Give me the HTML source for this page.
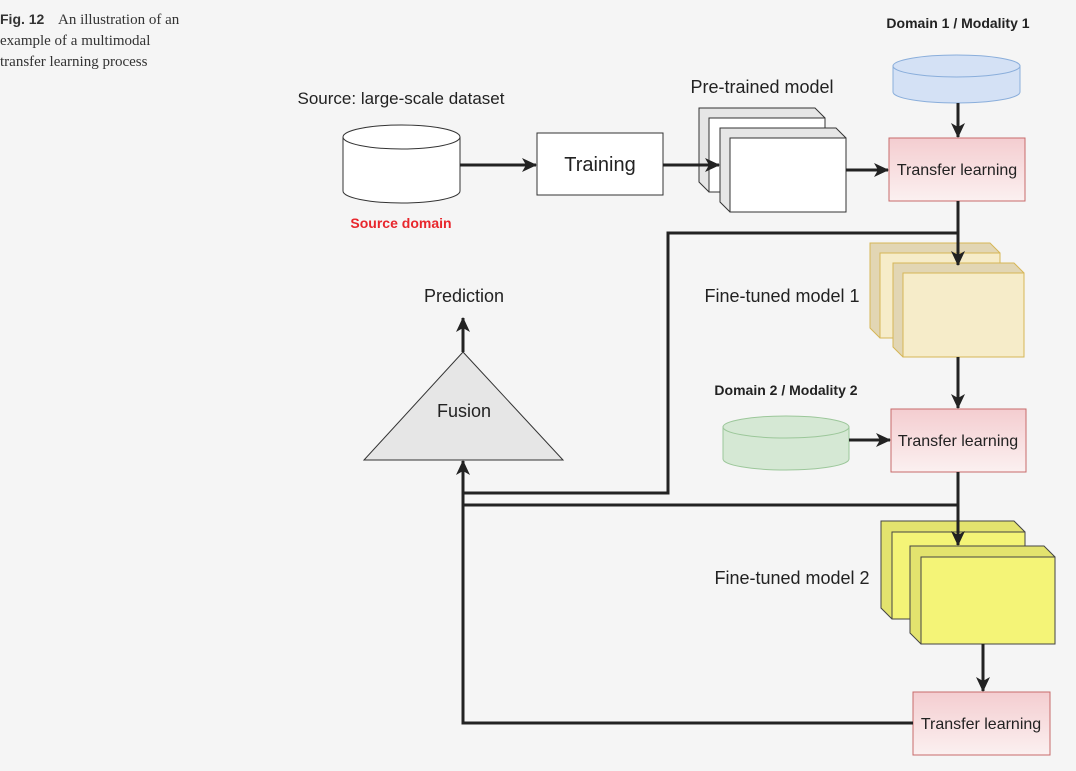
<!DOCTYPE html>
<html><head><style>
body{margin:0;background:#f5f5f5;width:1076px;height:766px;overflow:hidden}
svg text{font-family:"Liberation Sans",sans-serif}
</style></head><body>
<svg width="1076" height="766" viewBox="0 0 1076 766">
<defs>
<marker id="a" markerWidth="16" markerHeight="16" refX="14" refY="8" orient="auto" markerUnits="userSpaceOnUse"><path d="M0,1 L15,8 L0,15 L4,8z" fill="#222"/></marker>
<linearGradient id="tl" x1="0" y1="0" x2="0" y2="1"><stop offset="0" stop-color="#f4cdd0"/><stop offset="1" stop-color="#fbf0f0"/></linearGradient>
</defs>
<text x="0" y="24" font-size="14" font-weight="bold" fill="#333">Fig. 12</text>
<text x="58" y="24" font-size="15" fill="#333" style="font-family:'Liberation Serif',serif">An illustration of an</text>
<text x="0" y="45" font-size="15" fill="#333" style="font-family:'Liberation Serif',serif">example of a multimodal</text>
<text x="0" y="66" font-size="15" fill="#333" style="font-family:'Liberation Serif',serif">transfer learning process</text>

<!-- source cylinder -->
<path d="M343,137 v54 a58.5,12 0 0 0 117,0 v-54" fill="#fff" stroke="#333"/>
<ellipse cx="401.5" cy="137" rx="58.5" ry="12" fill="#fff" stroke="#333"/>
<text x="401" y="104" font-size="17" text-anchor="middle" fill="#222">Source: large-scale dataset</text>
<text x="401" y="228" font-size="14" font-weight="bold" text-anchor="middle" fill="#e8262c">Source domain</text>

<rect x="537" y="133" width="126" height="62" fill="#fff" stroke="#333"/>
<text x="600" y="171" font-size="20" text-anchor="middle" fill="#222">Training</text>

<text x="762" y="93" font-size="18" text-anchor="middle" fill="#222">Pre-trained model</text>
<g stroke="#333" stroke-width="1">
<path d="M699,108 h116 l10,10 v74 h-116 l-10,-10z" fill="#e6e6e6"/>
<rect x="709" y="118" width="116" height="74" fill="#fff"/>
<path d="M720,128 h116 l10,10 v74 h-116 l-10,-10z" fill="#e6e6e6"/>
<rect x="730" y="138" width="116" height="74" fill="#fff"/>
</g>

<text x="958" y="28" font-size="14" font-weight="bold" text-anchor="middle" fill="#222">Domain 1 / Modality 1</text>
<path d="M893,66 v26 a63.5,11 0 0 0 127,0 v-26" fill="#d4e1f5" stroke="#8aaedb"/>
<ellipse cx="956.5" cy="66" rx="63.5" ry="11" fill="#d4e1f5" stroke="#8aaedb"/>

<rect x="889" y="138" width="136" height="63" fill="url(#tl)" stroke="#c86b6b"/>
<text x="957" y="175" font-size="16" text-anchor="middle" fill="#222">Transfer learning</text>

<text x="782" y="302" font-size="18" text-anchor="middle" fill="#222">Fine-tuned model 1</text>
<g stroke="#d6b656" stroke-width="1">
<path d="M870,243 h120 l10,10 v85 h-120 l-10,-10z" fill="#e2d6b4"/>
<rect x="880" y="253" width="120" height="85" fill="#f6ecc9"/>
<path d="M893,263 h121 l10,10 v84 h-121 l-10,-10z" fill="#e2d6b4"/>
<rect x="903" y="273" width="121" height="84" fill="#f6ecc9"/>
</g>

<text x="786" y="395" font-size="14" font-weight="bold" text-anchor="middle" fill="#222">Domain 2 / Modality 2</text>
<path d="M723,427 v32 a63,11 0 0 0 126,0 v-32" fill="#d5e8d4" stroke="#9cc79a"/>
<ellipse cx="786" cy="427" rx="63" ry="11" fill="#d5e8d4" stroke="#9cc79a"/>

<rect x="891" y="409" width="135" height="63" fill="url(#tl)" stroke="#c86b6b"/>
<text x="958" y="446" font-size="16" text-anchor="middle" fill="#222">Transfer learning</text>

<text x="792" y="584" font-size="18" text-anchor="middle" fill="#222">Fine-tuned model 2</text>
<g stroke="#444" stroke-width="1">
<path d="M881,521 h133 l11,11 v87 h-133 l-11,-11z" fill="#e3e36e"/>
<rect x="892" y="532" width="133" height="87" fill="#f4f477"/>
<path d="M910,546 h134 l11,11 v87 h-134 l-11,-11z" fill="#e3e36e"/>
<rect x="921" y="557" width="134" height="87" fill="#f4f477"/>
</g>

<rect x="913" y="692" width="137" height="63" fill="url(#tl)" stroke="#c86b6b"/>
<text x="981" y="729" font-size="16" text-anchor="middle" fill="#222">Transfer learning</text>

<polygon points="463,352 563,460 364,460" fill="#e6e6e6" stroke="#333"/>
<text x="464" y="417" font-size="18" text-anchor="middle" fill="#222">Fusion</text>
<text x="464" y="302" font-size="18" text-anchor="middle" fill="#222">Prediction</text>

<g stroke="#222" stroke-width="3" fill="none">
<line x1="460" y1="165" x2="536" y2="165" marker-end="url(#a)"/>
<line x1="663" y1="165" x2="719" y2="165" marker-end="url(#a)"/>
<line x1="846" y1="170" x2="888" y2="170" marker-end="url(#a)"/>
<line x1="958" y1="103" x2="958" y2="137" marker-end="url(#a)"/>
<line x1="958" y1="201" x2="958" y2="265" marker-end="url(#a)"/>
<polyline points="958,233 668,233 668,493 463,493"/>
<line x1="958" y1="357" x2="958" y2="408" marker-end="url(#a)"/>
<line x1="849" y1="440" x2="890" y2="440" marker-end="url(#a)"/>
<line x1="958" y1="472" x2="958" y2="545" marker-end="url(#a)"/>
<line x1="463" y1="505" x2="958" y2="505"/>
<line x1="983" y1="644" x2="983" y2="691" marker-end="url(#a)"/>
<polyline points="913,723 463,723 463,461" marker-end="url(#a)"/>
<line x1="463" y1="352" x2="463" y2="318" marker-end="url(#a)"/>
</g>
</svg>
</body></html>
